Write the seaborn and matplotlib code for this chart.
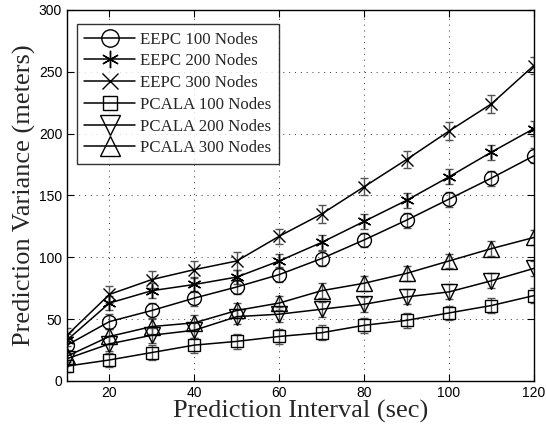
import numpy as np
import pandas as pd
import matplotlib
matplotlib.use("Agg")
import matplotlib.pyplot as plt
import seaborn as sns

x = [10, 20, 30, 40, 50, 60, 70, 80, 90, 100, 110, 120]
series_names = ["EEPC 100 Nodes", "EEPC 200 Nodes", "EEPC 300 Nodes",
                "PCALA 100 Nodes", "PCALA 200 Nodes", "PCALA 300 Nodes"]
eepc100 = [29, 48, 57, 67, 76, 86, 99, 114, 130, 147, 164, 182]
eepc200 = [33, 63, 73, 78, 84, 97, 112, 129, 146, 165, 185, 204]
eepc300 = [37, 70, 82, 90, 97, 117, 135, 157, 179, 202, 224, 255]
pcala100 = [12, 17, 23, 29, 32, 36, 39, 45, 49, 55, 61, 69]
pcala200 = [18, 30, 37, 41, 52, 54, 58, 62, 68, 72, 81, 91]
pcala300 = [20, 36, 44, 47, 57, 63, 73, 79, 87, 97, 107, 116]
err100 = [5, 6, 6, 6, 6, 6, 6, 6, 6, 6, 6, 6]
err200 = [5, 6, 6, 6, 6, 6, 6, 6, 6, 6, 6, 6]
err300 = [6, 7, 7, 7, 7, 6, 7, 7, 7, 7, 7, 7]
errp100 = [5, 6, 6, 6, 6, 6, 6, 6, 6, 6, 6, 6]
errp200 = [5, 6, 6, 6, 6, 6, 6, 6, 6, 6, 6, 6]
errp300 = [5, 6, 6, 6, 6, 6, 6, 6, 6, 6, 6, 6]

values = [eepc100, eepc200, eepc300, pcala100, pcala200, pcala300]
errors = [err100, err200, err300, errp100, errp200, errp300]
markers = ["o", (6, 2, 0), "x", "s", "v", "^"]
msizes = [10, 10, 9, 8, 11, 11]

sns.set_theme(style="ticks")
plt.rcParams["font.family"] = ["Liberation Sans", "DejaVu Sans"]

rows = []
for name, vals in zip(series_names, values):
    for xi, v in zip(x, vals):
        rows.append({"x": xi, "y": v, "series": name})
df = pd.DataFrame(rows)

fig = plt.figure(figsize=(5.46, 4.30), dpi=100)
ax = fig.add_axes([0.1227, 0.114, 0.855, 0.863])

for name, vals, errs, m, ms in zip(series_names, values, errors, markers, msizes):
    ax.errorbar(x, vals, yerr=errs, fmt="none", ecolor="#555555",
                elinewidth=1.0, capsize=3, capthick=1.0, zorder=2)
    sub = df[df["series"] == name]
    sns.lineplot(data=sub, x="x", y="y", ax=ax, color="black", linewidth=1.1,
                 marker=m, markersize=ms, markerfacecolor="none",
                 markeredgecolor="black", markeredgewidth=1.0,
                 label=name, zorder=3)

ax.set_xlim(10, 120)
ax.set_ylim(0, 300)
ax.set_xticks([20, 40, 60, 80, 100, 120])
ax.set_yticks([0, 50, 100, 150, 200, 250, 300])
ax.grid(True, color="#333333", linestyle=(0, (1, 5)), linewidth=0.7)
ax.tick_params(direction="in", top=True, right=True, length=5,
               labelsize=10, colors="black", width=0.8)
for s in ax.spines.values():
    s.set_color("black")
    s.set_linewidth(1.0)

ax.set_xlabel("Prediction Interval (sec)", family="Liberation Serif",
              fontsize=19, labelpad=0)
ax.set_ylabel("Prediction Variance (meters)", family="Liberation Serif",
              fontsize=19, labelpad=2)

leg = ax.legend(loc="upper left", bbox_to_anchor=(0.021, 0.962), frameon=True,
                fancybox=False, edgecolor="black", handlelength=3.0,
                markerscale=1.25,
                prop={"family": "Liberation Serif", "size": 12.2},
                labelspacing=0.34, borderpad=0.45, handletextpad=0.3,
                borderaxespad=0.0)
leg.get_frame().set_linewidth(1.0)

fig.savefig("out.png", dpi=100)
